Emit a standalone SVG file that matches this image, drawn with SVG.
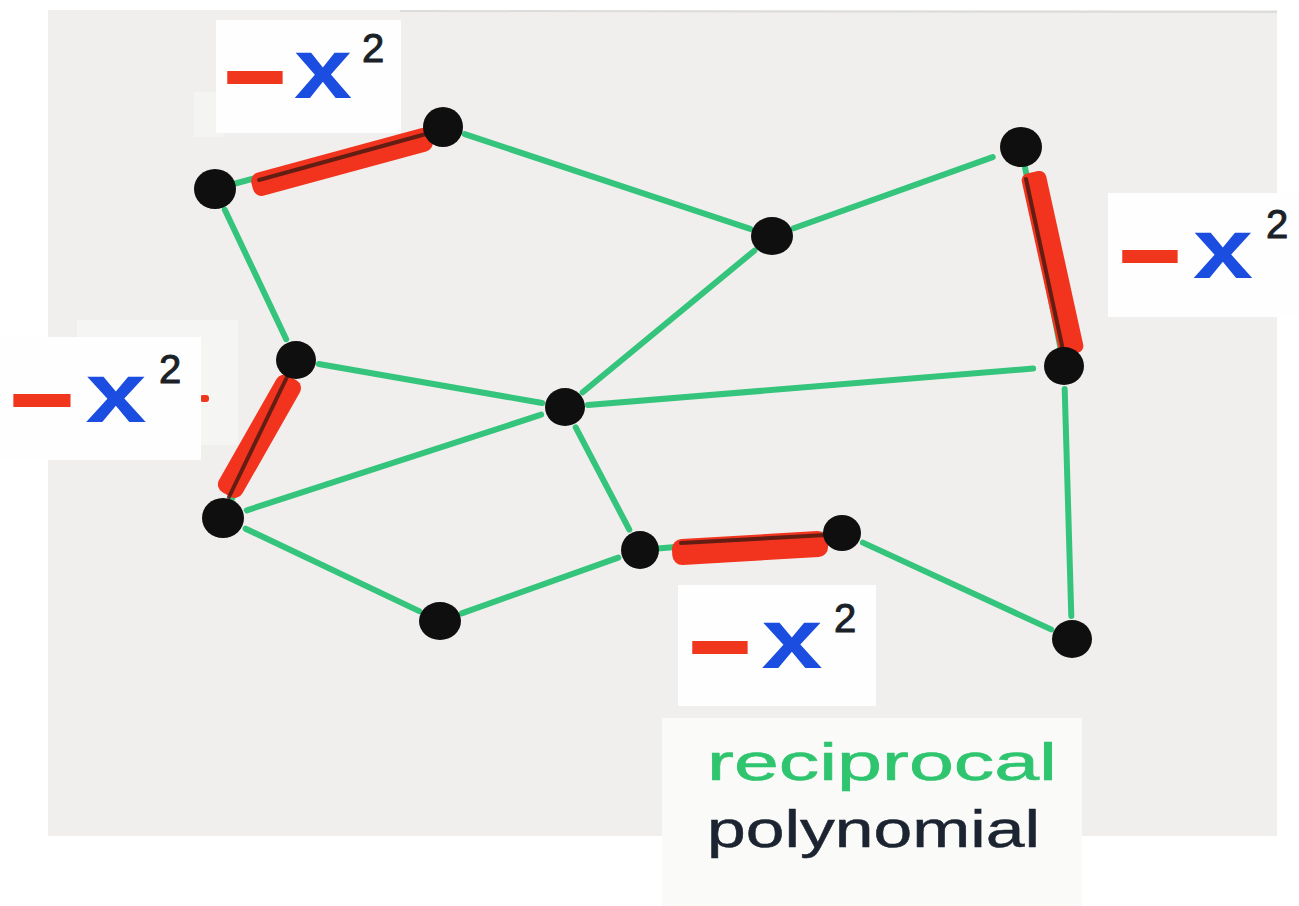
<svg xmlns="http://www.w3.org/2000/svg" width="1299" height="906" viewBox="0 0 1299 906">
<style>
.edge{stroke:#35c47c;stroke-width:6;stroke-linecap:round;fill:none}
.node{fill:#0f0f10}
.bar{fill:#f2341f}
.barline{stroke:#4a1a12;stroke-width:4;stroke-linecap:round;fill:none;opacity:0.85}
.patch{fill:#fefefe}
.minus{font-family:"Liberation Sans",Arial,sans-serif;font-weight:bold;font-size:100px;fill:#f0361d;stroke:#f0361d;stroke-width:2;text-anchor:middle}
.ex{font-family:"Liberation Sans",Arial,sans-serif;font-weight:bold;font-size:85px;fill:#1b4ee0;text-anchor:middle}
.two{font-family:"Liberation Sans",Arial,sans-serif;font-size:40px;fill:#1a2228;stroke:#1a2228;stroke-width:1;text-anchor:middle}
.hand{font-family:"Liberation Sans",Arial,sans-serif;font-size:52px}
</style>
<rect x="0" y="0" width="1299" height="906" fill="#ffffff"/>
<rect id="paper" x="48" y="10" width="1229" height="826" fill="#f0efed"/>
<line x1="400" y1="11" x2="1277" y2="12" stroke="#dcdcdc" stroke-width="2"/>

<g id="connectors">
  <line class="edge" x1="224.8" y1="209.8" x2="286.2" y2="339.2"/>
  <line class="edge" x1="464.8" y1="134.2" x2="750.2" y2="228.8"/>
  <line class="edge" x1="793.7" y1="228.3" x2="992.7" y2="157.1"/>
  <line class="edge" x1="754.3" y1="250.7" x2="582.7" y2="392.3"/>
  <line class="edge" x1="318.7" y1="364" x2="542.3" y2="403"/>
  <line class="edge" x1="587.9" y1="405.1" x2="1033.1" y2="368.5"/>
  <line class="edge" x1="246.8" y1="510.3" x2="541.2" y2="414.7"/>
  <line class="edge" x1="245.6" y1="528.7" x2="419.2" y2="611.1"/>
  <line class="edge" x1="461.7" y1="613.3" x2="618.3" y2="557.7"/>
  <line class="edge" x1="575.7" y1="427.4" x2="629.3" y2="529.6"/>
  <line class="edge" x1="862.9" y1="542.6" x2="1051.1" y2="629.4"/>
  <line class="edge" x1="1064.7" y1="389" x2="1071.3" y2="616"/>
  <line class="edge" x1="215" y1="189" x2="443" y2="127"/>
  <line class="edge" x1="296" y1="360" x2="223" y2="518"/>
  <line class="edge" x1="1021" y1="147" x2="1064" y2="366"/>
  <line class="edge" x1="640" y1="550" x2="842" y2="533"/>
  <rect class="bar" x="-93" y="-12" width="186" height="24" rx="9" transform="translate(342,162) rotate(-15.2)"/>
  <line class="barline" x1="259" y1="180" x2="426" y2="134"/>
  <rect class="bar" x="-67" y="-13" width="134" height="27" rx="9" transform="translate(259,436) rotate(-60.4)"/>
  <line class="barline" x1="287" y1="377" x2="229" y2="497" stroke-width="3.5"/>
  <rect class="bar" x="-93" y="-12" width="186" height="25" rx="7" transform="translate(1053,263) rotate(77.6)"/>
  <line class="barline" x1="1026" y1="179" x2="1063" y2="350" stroke-width="3.5"/>
  <rect class="bar" x="-78" y="-13" width="156" height="26" rx="10" transform="translate(750,548) rotate(-3.3)"/>
  <line class="barline" x1="681" y1="543" x2="826" y2="535"/>
</g>

<g id="nodes">
  <ellipse id="nA" class="node" cx="215" cy="189" rx="21" ry="20"/>
  <ellipse id="nB" class="node" cx="443" cy="127" rx="20" ry="20"/>
  <ellipse id="nC" class="node" cx="772" cy="236" rx="21" ry="19"/>
  <ellipse id="nD" class="node" cx="1021" cy="147" rx="21" ry="20"/>
  <ellipse id="nE" class="node" cx="296" cy="360" rx="20" ry="19"/>
  <ellipse id="nF" class="node" cx="565" cy="407" rx="20" ry="19"/>
  <ellipse id="nG" class="node" cx="1064" cy="366" rx="20" ry="19"/>
  <ellipse id="nH" class="node" cx="223" cy="518" rx="21" ry="20"/>
  <ellipse id="nI" class="node" cx="640" cy="550" rx="19" ry="19"/>
  <ellipse id="nJ" class="node" cx="842" cy="533" rx="19" ry="18"/>
  <ellipse id="nK" class="node" cx="440" cy="621" rx="21" ry="19"/>
  <ellipse id="nL" class="node" cx="1072" cy="639" rx="20" ry="19"/>
</g>

<g id="label-top">
  <rect x="194" y="92" width="30" height="45" fill="#f4f4f3"/>
  <rect class="patch" x="216" y="20" width="185" height="113"/>
  <text class="minus" x="255" y="111" textLength="62" lengthAdjust="spacingAndGlyphs">−</text>
  <text class="ex" x="323" y="98" textLength="58" lengthAdjust="spacingAndGlyphs">x</text>
  <text class="two" x="373" y="62">2</text>
</g>

<g id="label-left">
  <rect x="77" y="320" width="161" height="125" fill="#f5f5f4"/>
  <rect x="200" y="395" width="9" height="7" rx="3" fill="#f0361d"/>
  <rect class="patch" x="0" y="337" width="201" height="123"/>
  <text class="minus" x="42" y="434" textLength="64" lengthAdjust="spacingAndGlyphs">−</text>
  <text class="ex" x="116" y="422" textLength="61" lengthAdjust="spacingAndGlyphs">x</text>
  <text class="two" x="170" y="383">2</text>
</g>

<g id="label-right">
  <rect class="patch" x="1108" y="193" width="191" height="124"/>
  <text class="minus" x="1150" y="290" textLength="62" lengthAdjust="spacingAndGlyphs">−</text>
  <text class="ex" x="1223" y="278" textLength="60" lengthAdjust="spacingAndGlyphs">x</text>
  <text class="two" x="1277" y="238">2</text>
</g>

<g id="label-bottom">
  <rect class="patch" x="678" y="585" width="198" height="121"/>
  <text class="minus" x="720" y="681" textLength="62" lengthAdjust="spacingAndGlyphs">−</text>
  <text class="ex" x="792" y="668" textLength="61" lengthAdjust="spacingAndGlyphs">x</text>
  <text class="two" x="845" y="632">2</text>
</g>

<g id="legend">
  <rect x="662" y="718" width="420" height="188" fill="#fafaf9"/>
  <text class="hand" x="707" y="780" textLength="350" lengthAdjust="spacingAndGlyphs" fill="#2fc56f" stroke="#2fc56f" stroke-width="0.6">reciprocal</text>
  <text class="hand" x="707" y="847" textLength="333" lengthAdjust="spacingAndGlyphs" fill="#1b2430" stroke="#1b2430" stroke-width="0.5">polynomial</text>
</g>
</svg>
